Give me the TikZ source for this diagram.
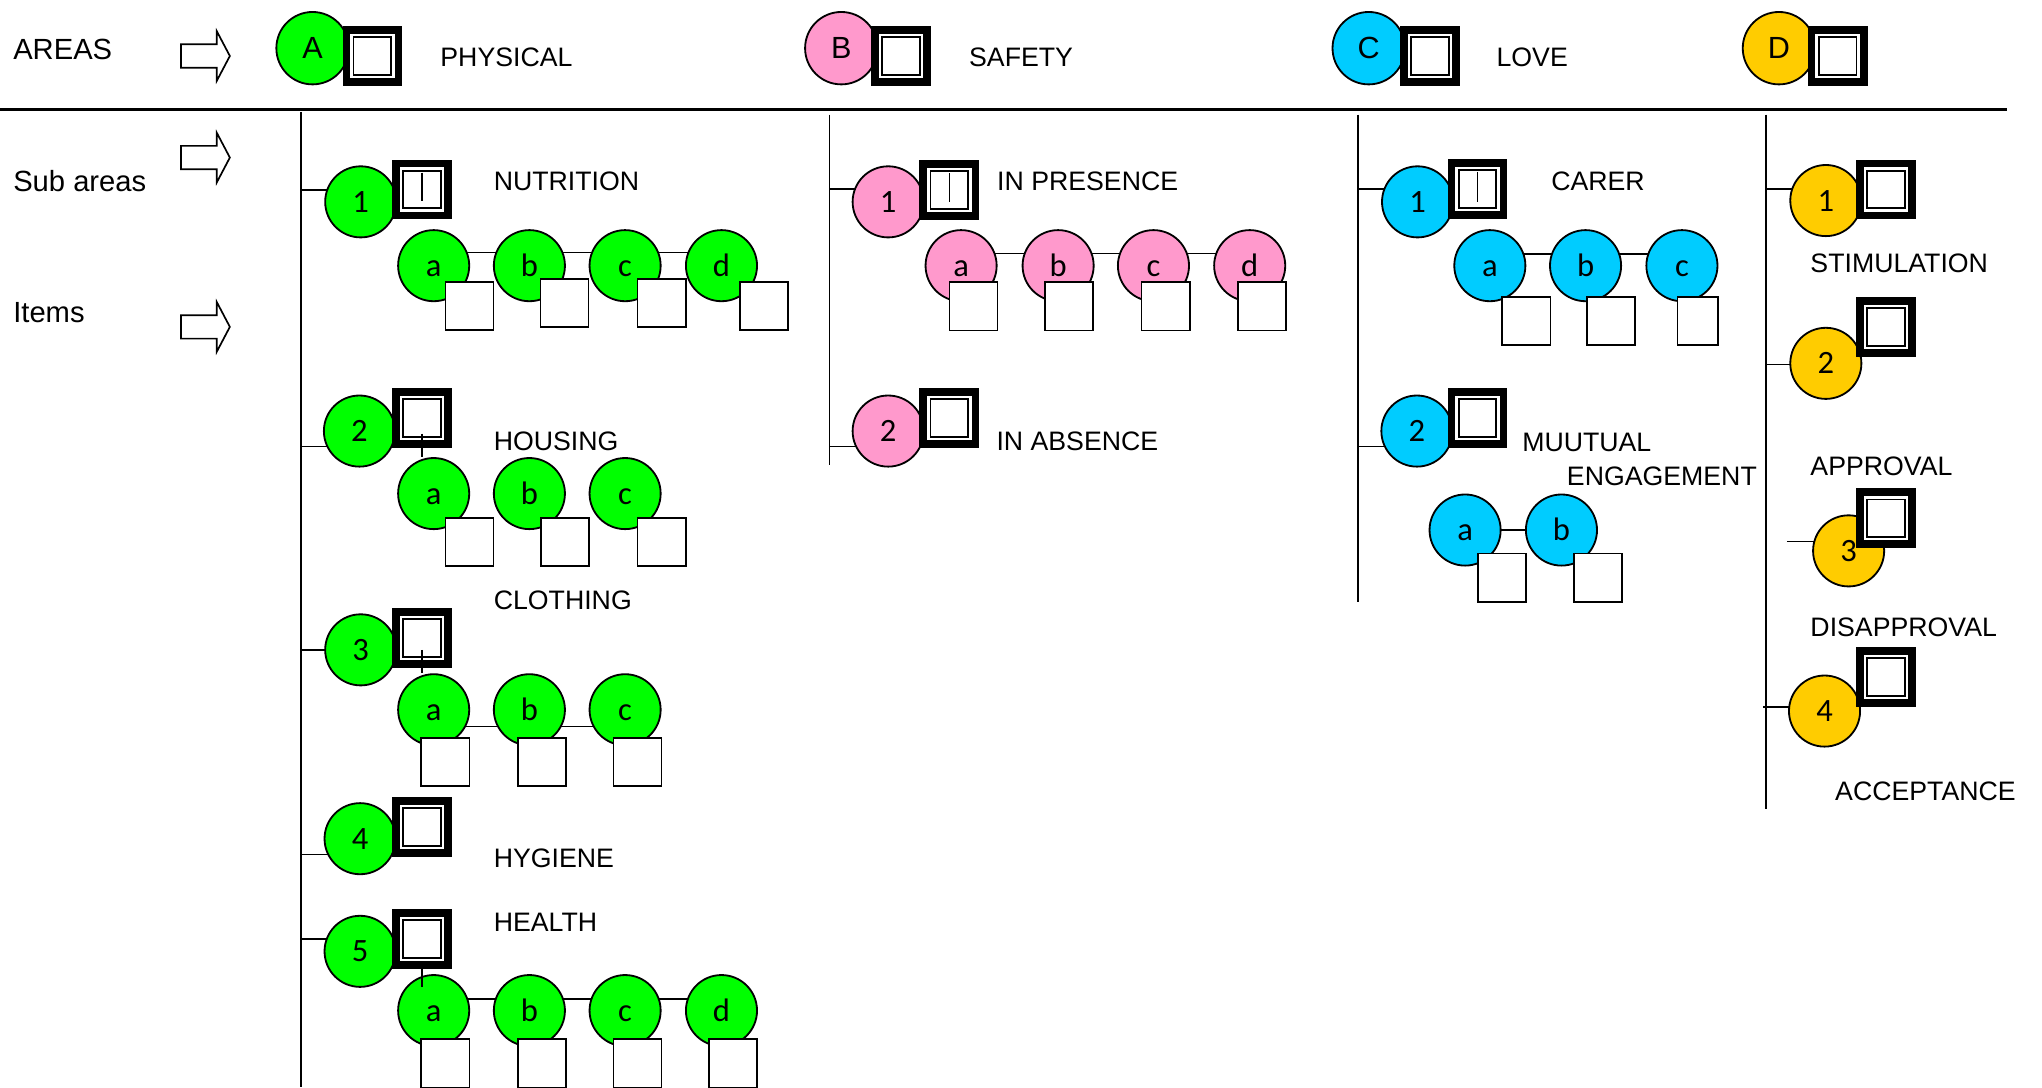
\documentclass[tikz,border=0pt]{standalone}
\usepackage{fontspec}
\setmainfont{Liberation Sans}
\newfontfamily\calfont{Carlito}
\usetikzlibrary{backgrounds}
\definecolor{cgreen}{HTML}{00FF00}
\definecolor{cpink}{HTML}{FF99CC}
\definecolor{ccyan}{HTML}{00CCFF}
\definecolor{cgold}{HTML}{FFCC00}
\tikzset{
 circ/.style={circle, draw=black, line width=1.4pt, minimum size=54.6pt, inner sep=0pt,
   font=\calfont\fontsize{25}{25}\selectfont, text height=16.2pt, text depth=0pt},
 hcirc/.style={circle, draw=black, line width=1.4pt, minimum size=55.6pt, inner sep=0pt,
   font=\fontsize{23.5}{23.5}\selectfont},
 dsqo/.style={rectangle, draw=black, fill=white, line width=6pt, minimum size=40pt, inner sep=0pt},
 dsqi/.style={rectangle, draw=black, line width=1.4pt, minimum size=29pt, inner sep=0pt},
 isq/.style={rectangle, draw=black, fill=white, line width=1.3pt, minimum width=37pt, minimum height=37pt, inner sep=0pt},
 lbl/.style={anchor=west, inner sep=0pt, font=\fontsize{20.5}{24}\selectfont},
 lbig/.style={anchor=west, inner sep=0pt, font=\fontsize{22.4}{26}\selectfont},
 conn/.style={line width=1.1pt},
 coln/.style={line width=1.4pt},
 barl/.style={line width=1.3pt},
 blk/.style={draw=black, line width=1.3pt, fill=white},
}
\newcommand\blockarr[2]{%
 \draw[blk] (#1,#2-9) -- (#1+27.5,#2-9) -- (#1+27.5,#2-19) -- (#1+37.5,#2)
   -- (#1+27.5,#2+19) -- (#1+27.5,#2+9) -- (#1,#2+9) -- cycle;}
\newcommand\dsq[3]{\node[dsqo] (#1) at (#2,#3) {}; \node[dsqi] (#1i) at (#1.center) {};}
\begin{document}
\begin{tikzpicture}[x=1pt, y=-1pt]
\useasboundingbox (0,0) rectangle (1568,835);

% ---------- header ----------
\node[lbig] (areas) at (10,38) {AREAS};
\blockarr{139}{43}
\node[lbig] (subareas) at (10,139) {Sub areas};
\blockarr{139}{121}
\node[lbig] (items) at (10,240) {Items};
\blockarr{139}{251}

\node[hcirc, fill=cgreen] (hA) at (240,37) {A};
\dsq{hsA}{286}{43}
\node[lbl] (tA) at (338,44) {PHYSICAL};
\node[hcirc, fill=cpink] (hB) at (646,37) {B};
\dsq{hsB}{692}{43}
\node[lbl] (tB) at (744,44) {SAFETY};
\node[hcirc, fill=ccyan] (hC) at (1051,37) {C};
\dsq{hsC}{1098}{43}
\node[lbl] (tC) at (1149,44) {LOVE};
\node[hcirc, fill=cgold] (hD) at (1366,37) {D};
\dsq{hsD}{1411}{43}

\coordinate (hl0) at (0,84);
\coordinate (hl1) at (1541,84);
\draw[line width=2pt] (hl0) -- (hl1);

% column lines
\coordinate (colA0) at (231,86);  \coordinate (colA1) at (231,835);
\coordinate (colB0) at (637,88);  \coordinate (colB1) at (637,357);
\coordinate (colC0) at (1043,88); \coordinate (colC1) at (1043,462);
\coordinate (colD0) at (1356,88); \coordinate (colD1) at (1356,621);
\draw[coln] (colA0) -- (colA1);
\draw[coln] (colB0) -- (colB1);
\draw[coln] (colC0) -- (colC1);
\draw[coln] (colD0) -- (colD1);

% ---------- column A : PHYSICAL ----------
% row 1
\node[circ, fill=cgreen] (a1) at (277,155) {1};
\dsq{a1s}{324}{145.5}
\draw[barl] ([yshift=13pt]a1s.center) -- ([yshift=-9pt]a1s.center);
\node[lbl] (ta1) at (379,139) {NUTRITION};
\node[circ, fill=cgreen] (a1a) at (333,204) {a};
\node[circ, fill=cgreen] (a1b) at (406.5,204) {b};
\node[circ, fill=cgreen] (a1c) at (480,204) {c};
\node[circ, fill=cgreen] (a1d) at (554,204) {d};
\node[isq] (a1aq) at (360.5,235) {};
\node[isq] (a1bq) at (433.5,232.5) {};
\node[isq] (a1cq) at (508,232.5) {};
\node[isq] (a1dq) at (586.5,235) {};
% row 2
\node[circ, fill=cgreen] (a2) at (276,331) {2};
\dsq{a2s}{324}{321}
\node[lbl] (ta2) at (379,339) {HOUSING};
\node[circ, fill=cgreen] (a2a) at (333,379) {a};
\node[circ, fill=cgreen] (a2b) at (406.5,379) {b};
\node[circ, fill=cgreen] (a2c) at (480,379) {c};
\node[isq] (a2aq) at (360.5,416) {};
\node[isq] (a2bq) at (434,416) {};
\node[isq] (a2cq) at (508,416) {};
\draw[conn] ([yshift=-12pt]a2s.center) -- (a2a.north -| a2s.center);
% row 3
\node[lbl] (ta3) at (379,461) {CLOTHING};
\node[circ, fill=cgreen] (a3) at (277,499) {3};
\dsq{a3s}{324}{490}
\node[circ, fill=cgreen] (a3a) at (333,545) {a};
\node[circ, fill=cgreen] (a3b) at (406.5,545) {b};
\node[circ, fill=cgreen] (a3c) at (480,545) {c};
\node[isq] (a3aq) at (342,585) {};
\node[isq] (a3bq) at (416,585) {};
\node[isq] (a3cq) at (489.5,585) {};
\draw[conn] ([yshift=-9pt]a3s.center) -- (a3a.north -| a3s.center);
% row 4
\node[circ, fill=cgreen] (a4) at (276.5,644) {4};
\dsq{a4s}{324}{635}
\node[lbl] (ta4) at (379,659) {HYGIENE};
% row 5
\node[lbl] (ta5) at (379,708) {HEALTH};
\node[circ, fill=cgreen] (a5) at (276.5,730.5) {5};
\dsq{a5s}{324}{721}
\node[circ, fill=cgreen] (a5a) at (333,776) {a};
\node[circ, fill=cgreen] (a5b) at (406.5,776) {b};
\node[circ, fill=cgreen] (a5c) at (480,776) {c};
\node[circ, fill=cgreen] (a5d) at (554,776) {d};
\node[isq] (a5aq) at (342,816.5) {};
\node[isq] (a5bq) at (416,816.5) {};
\node[isq] (a5cq) at (489.5,816.5) {};
\node[isq] (a5dq) at (563,816.5) {};
\draw[conn] (a5s.south) -- ([yshift=-10pt]a5a.north -| a5s.center);

% ---------- column B : SAFETY ----------
\node[circ, fill=cpink] (b1) at (682,155) {1};
\dsq{b1s}{729}{146}
\draw[barl] ([yshift=13pt]b1s.center) -- ([yshift=-9pt]b1s.center);
\node[lbl] (tb1) at (765.5,139.6) {IN PRESENCE};
\node[circ, fill=cpink] (b1a) at (738,204) {a};
\node[circ, fill=cpink] (b1b) at (812.5,204) {b};
\node[circ, fill=cpink] (b1c) at (885.7,204) {c};
\node[circ, fill=cpink] (b1d) at (959.6,204) {d};
\node[isq] (b1aq) at (747.5,235.2) {};
\node[isq] (b1bq) at (821,235.2) {};
\node[isq] (b1cq) at (895,235.2) {};
\node[isq] (b1dq) at (969,235.2) {};
\node[circ, fill=cpink] (b2) at (682,331) {2};
\dsq{b2s}{729}{321}
\node[lbl] (tb2) at (765,339) {IN ABSENCE};

% ---------- column C : LOVE ----------
\node[circ, fill=ccyan] (c1) at (1088.5,155) {1};
\dsq{c1s}{1134.5}{145}
\draw[barl] ([yshift=13pt]c1s.center) -- ([yshift=-10pt]c1s.center);
\node[lbl] (tc1) at (1191,139.6) {CARER};
\node[circ, fill=ccyan] (c1a) at (1144,204) {a};
\node[circ, fill=ccyan] (c1b) at (1217.5,204) {b};
\node[circ, fill=ccyan] (c1c) at (1291.5,204) {c};
\node[isq] (c1aq) at (1172,246.5) {};
\node[isq] (c1bq) at (1237,246.5) {};
\node[isq, minimum width=31pt] (c1cq) at (1303.5,246.5) {};
\node[circ, fill=ccyan] (c2) at (1088,331) {2};
\dsq{c2s}{1134.5}{321}
\node[lbl] (tc2) at (1168.7,340) {MUUTUAL};
\node[lbl] (tc2b) at (1203,365.6) {ENGAGEMENT};
\node[circ, fill=ccyan] (c2a) at (1125,407) {a};
\node[circ, fill=ccyan] (c2b) at (1199,407) {b};
\node[isq] (c2aq) at (1153.5,443.5) {};
\node[isq] (c2bq) at (1227,443.5) {};

% ---------- column D ----------
\node[circ, fill=cgold] (d1) at (1402,154) {1};
\dsq{d1s}{1448}{145.5}
\node[lbl] (td1) at (1390,202) {STIMULATION};
\node[circ, fill=cgold] (d2) at (1402,279) {2};
\dsq{d2s}{1448}{251}
\node[lbl] (td2) at (1390,358) {APPROVAL};
\node[circ, fill=cgold] (d3) at (1419.5,423) {3};
\dsq{d3s}{1448}{398}
\node[lbl] (td3) at (1390,482) {DISAPPROVAL};
\node[circ, fill=cgold] (d4) at (1401,546) {4};
\dsq{d4s}{1448}{520}
\node[lbl] (td4) at (1409,608) {ACCEPTANCE};
\coordinate (d3t) at (1372,416);
\coordinate (d4t) at (1354,543);

% ---------- connectors (behind) ----------
\begin{scope}[on background layer]
 % ticks from column lines
 \draw[conn] ([yshift=9pt]a1.center -| colA0) -- ([yshift=9pt]a1.center);
 \draw[conn] ([yshift=-12pt]a2.center -| colA0) -- ([yshift=-12pt]a2.center);
 \draw[conn] (a3.center -| colA0) -- (a3.center);
 \draw[conn] ([yshift=-12pt]a4.center -| colA0) -- ([yshift=-12pt]a4.center);
 \draw[conn] ([yshift=9.5pt]a5.center -| colA0) -- ([yshift=9.5pt]a5.center);
 \draw[conn] ([yshift=10pt]b1.center -| colB0) -- ([yshift=10pt]b1.center);
 \draw[conn] ([yshift=-12pt]b2.center -| colB0) -- ([yshift=-12pt]b2.center);
 \draw[conn] ([yshift=10pt]c1.center -| colC0) -- ([yshift=10pt]c1.center);
 \draw[conn] ([yshift=-12pt]c2.center -| colC0) -- ([yshift=-12pt]c2.center);
 \draw[conn] ([yshift=9pt]d1.center -| colD0) -- ([yshift=9pt]d1.center);
 \draw[conn] ([yshift=-1pt]d2.center -| colD0) -- ([yshift=-1pt]d2.center);
 \draw[conn] (d3t) -- (d3t -| d3.center);
 \draw[conn] (d4t) -- (d4t -| d4.center);
 % item chains
 \draw[conn] ([yshift=10pt]a1a.center) -- ([yshift=10pt]a1b.center) -- ([yshift=10pt]a1c.center) -- ([yshift=10pt]a1d.center);
 \draw[conn] ([yshift=-13pt]a3a.center) -- ([yshift=-13pt]a3b.center) -- ([yshift=-13pt]a3c.center);
 \draw[conn] ([yshift=9pt]a5a.center) -- ([yshift=9pt]a5b.center) -- ([yshift=9pt]a5c.center) -- ([yshift=9pt]a5d.center);
 \draw[conn] ([yshift=9.5pt]b1a.center) -- ([yshift=9.5pt]b1b.center) -- ([yshift=9.5pt]b1c.center) -- ([yshift=9.5pt]b1d.center);
 \draw[conn] ([yshift=9pt]c1a.center) -- ([yshift=9pt]c1b.center) -- ([yshift=9pt]c1c.center);
 \draw[conn] (c2a.center) -- (c2b.center);
\end{scope}
\end{tikzpicture}
\end{document}
